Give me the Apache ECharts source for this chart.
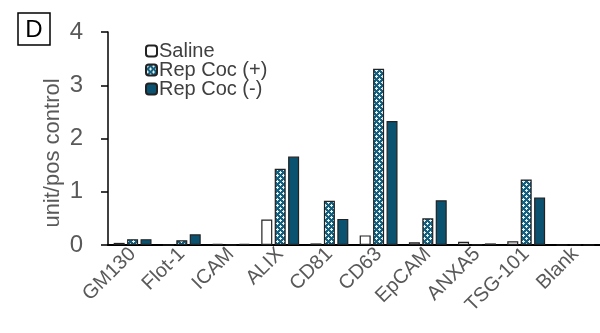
<!DOCTYPE html>
<html><head><meta charset="utf-8">
<script src="https://cdn.jsdelivr.net/npm/echarts@6/dist/echarts.min.js"></script>
<style>html,body{margin:0;padding:0;background:#fff}#c{width:600px;height:333px}</style>
</head><body><div id="c"></div>
<script>
var categories = ['GM130','Flot-1','ICAM','ALIX','CD81','CD63','EpCAM','ANXA5','TSG-101','Blank'];
var saline   = [0.04, 0,    0.02, 0.48, 0.03, 0.18, 0.05, 0.06, 0.07, 0];
var repCocP  = [0.11, 0.09, 0,    1.43, 0.83, 3.31, 0.50, 0.01, 1.23, 0];
var repCocN  = [0.11, 0.20, 0.02, 1.66, 0.49, 2.33, 0.84, 0.03, 0.89, 0];
var yTicks = [0,1,2,3,4];

var pc = document.createElement('canvas');
pc.width = 6; pc.height = 6;
var g = pc.getContext('2d');
g.fillStyle = '#14607e'; g.fillRect(0,0,6,6);
g.fillStyle = '#e8f2f6';
g.fillRect(1,0,1,1); g.fillRect(0,1,3,1); g.fillRect(1,2,1,1);
g.fillRect(4,3,1,1); g.fillRect(3,4,3,1); g.fillRect(4,5,1,1);

var chart = echarts.init(document.getElementById('c'), null, {renderer:'canvas'});
var font = 'Liberation Sans, Arial, sans-serif';
var border = {borderColor:'#222', borderWidth:1.2};
chart.setOption({
  animation:false,
  grid:{left:108, right:0, top:32, bottom:88},
  legend:{
    orient:'vertical', left:140, top:36, itemWidth:11, itemHeight:11, itemGap:-1,
    textStyle:{fontFamily:font, fontSize:20, color:'#404040', padding:[0,0,0,-3]},
    data:['Saline','Rep Coc (+)','Rep Coc (-)']
  },
  graphic:[
    {type:'rect', shape:{x:18, y:13, width:32, height:32}, style:{fill:'#fff', stroke:'#000', lineWidth:1.5}},
    {type:'text', x:34, y:30, style:{text:'D', fontFamily:font, fontSize:24, fill:'#000', align:'center', verticalAlign:'middle'}},
    {type:'text', x:53, y:153, rotation:Math.PI/2,
      style:{text:'unit/pos control', fontFamily:font, fontSize:22, fill:'#595959', align:'center', verticalAlign:'middle'}}
  ],
  xAxis:{
    type:'category', data:categories,
    axisLine:{lineStyle:{color:'#000', width:2}},
    axisTick:{show:false},
    axisLabel:{rotate:45, interval:0, fontFamily:font, fontSize:20, color:'#595959', margin:6}
  },
  yAxis:{
    type:'value', min:0, max:4, interval:1,
    axisLine:{show:true, lineStyle:{color:'#000', width:1.5}},
    axisTick:{show:true, length:7, lineStyle:{color:'#000', width:1.5}},
    splitLine:{show:false},
    axisLabel:{fontFamily:font, fontSize:24, color:'#595959', margin:25,
      formatter:function(v){return yTicks.indexOf(v)>=0?String(v):'';}}
  },
  series:[
    {name:'Saline', type:'bar', data:saline, barWidth:11, barGap:'22%',
      itemStyle:Object.assign({color:'#fff'}, border)},
    {name:'Rep Coc (+)', type:'bar', data:repCocP, barWidth:11, barGap:'22%',
      itemStyle:Object.assign({color:{image:pc, repeat:'repeat'}}, border)},
    {name:'Rep Coc (-)', type:'bar', data:repCocN, barWidth:11, barGap:'22%',
      itemStyle:Object.assign({color:'#0b5270'}, border)}
  ]
});
</script></body></html>
